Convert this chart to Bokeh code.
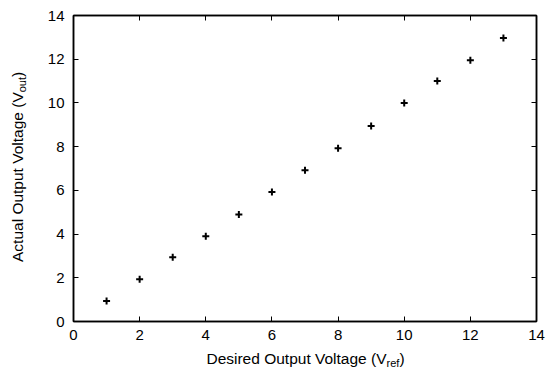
from bokeh.plotting import figure
from bokeh.models import Range1d, FixedTicker, LinearAxis, ColumnDataSource, Div
from bokeh.layouts import row, column
from bokeh.embed import file_html
from bokeh.resources import INLINE

# data
desired_v = [1, 2, 3, 4, 5, 6, 7, 8, 9, 10, 11, 12, 13]
actual_v = [0.94, 1.93, 2.94, 3.9, 4.9, 5.93, 6.92, 7.93, 8.95, 10.0, 11.0, 11.95, 12.97]
tick_values = [0, 2, 4, 6, 8, 10, 12, 14]
x_label_main = "Desired Output Voltage (V"
x_label_sub = "ref"
y_label_main = "Actual Output Voltage (V"
y_label_sub = "out"

FONT = "Liberation Sans"
TICK_FS = "15px"

P_W, P_H = 517, 351
Y_W = 30
X_H = 17

p = figure(width=P_W, height=P_H, output_backend="svg", toolbar_location=None,
           x_range=Range1d(0, 14), y_range=Range1d(0, 14),
           min_border_left=43, min_border_right=11, min_border_top=15, min_border_bottom=30,
           background_fill_color="white", border_fill_color="white")
p.xgrid.visible = False
p.ygrid.visible = False
p.outline_line_color = "black"
p.outline_line_width = 1.5

src = ColumnDataSource(dict(x=desired_v, y=actual_v))
p.scatter("x", "y", source=src, marker="cross", size=7, line_width=2, line_color="black")

def style(ax, labels=True, standoff=8):
    ax.ticker = FixedTicker(ticks=tick_values)
    ax.major_tick_in = 5
    ax.major_tick_out = 0
    ax.minor_tick_line_color = None
    ax.major_tick_line_color = "black"
    ax.major_tick_line_width = 1
    ax.axis_line_color = "black"
    ax.axis_line_width = 1.5
    ax.major_label_text_font = FONT
    ax.major_label_text_color = "black"
    if labels:
        ax.major_label_text_font_size = TICK_FS
        ax.major_label_standoff = standoff
    else:
        ax.major_label_text_font_size = "1px"
        ax.major_label_text_alpha = 0
        ax.major_label_standoff = 0

style(p.xaxis[0], True, 8)
style(p.yaxis[0], True, 9)
right_ax = LinearAxis()
style(right_ax, False)
top_ax = LinearAxis()
style(top_ax, False)
p.add_layout(right_ax, "right")
p.add_layout(top_ax, "above")

font_css = "font-family:'Liberation Sans';font-size:15.5px;line-height:1;color:black;white-space:nowrap;"
sub_css = "font-size:11px;vertical-align:-3px;line-height:0;"

y_html = (f'<div style="position:relative;width:{Y_W}px;height:{P_H}px;margin:0;padding:0;">'
          f'<div style="position:absolute;left:10px;top:262px;transform:rotate(-90deg);'
          f'transform-origin:0 0;{font_css}">{y_label_main}<span style="{sub_css}">{y_label_sub}</span>)</div></div>')
x_html = (f'<div style="position:relative;width:{Y_W + P_W}px;height:{X_H}px;margin:0;padding:0;">'
          f'<div style="position:absolute;left:0;top:0px;width:611px;text-align:center;{font_css}">'
          f'{x_label_main}<span style="{sub_css}">{x_label_sub}</span>)</div></div>')

ydiv = Div(text=y_html, width=Y_W, height=P_H, margin=0)
xdiv = Div(text=x_html, width=Y_W + P_W, height=X_H, margin=0)

layout = column(row(ydiv, p, spacing=0), xdiv, spacing=0)

open("out.html", "w").write(file_html(layout, INLINE))
